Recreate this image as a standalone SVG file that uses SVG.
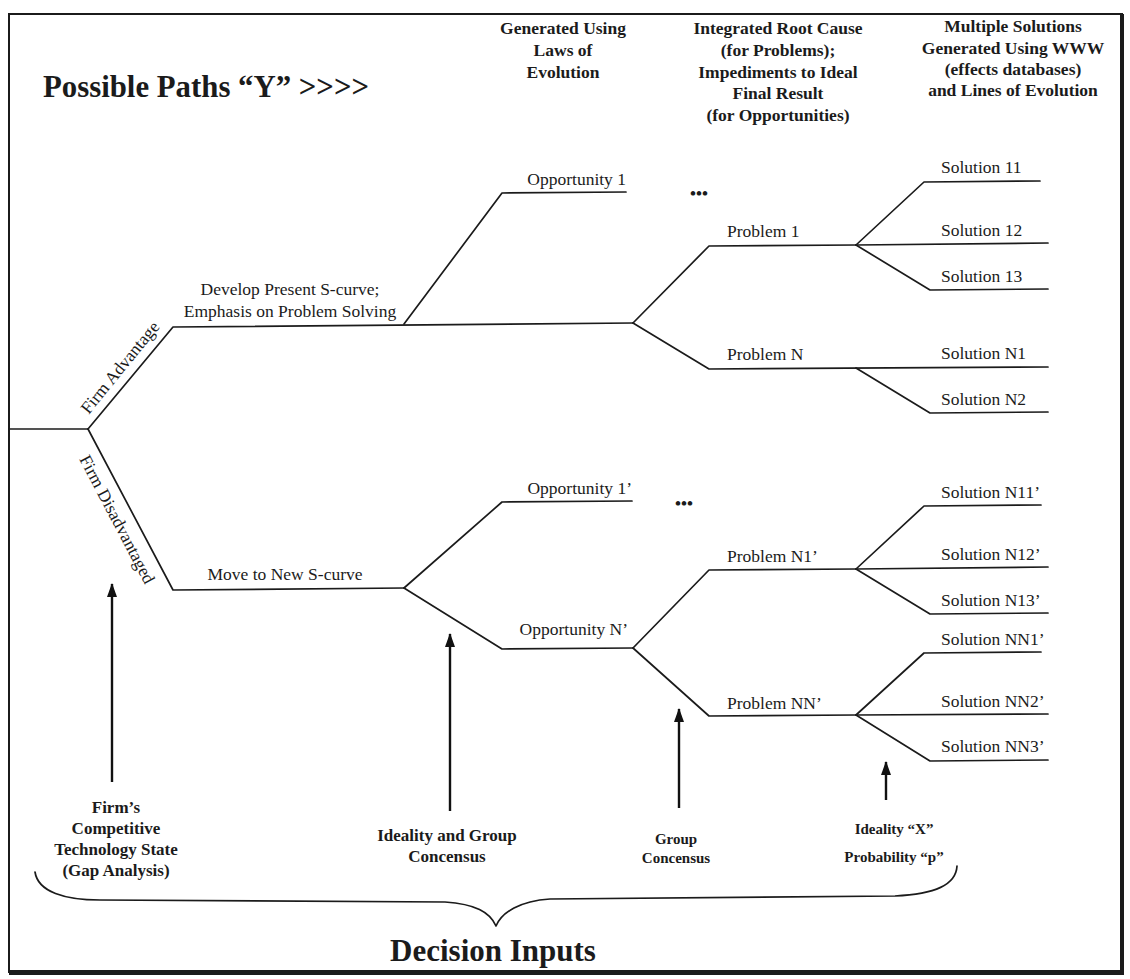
<svg xmlns="http://www.w3.org/2000/svg" width="1130" height="979" viewBox="0 0 1130 979">
  <style>
    .ln { fill: none; stroke: #1b1b1b; stroke-width: 1.7; stroke-linecap: round; stroke-linejoin: round; }
    .arr { fill: none; stroke: #111; stroke-width: 2.4; }
    .lbl { font-family: "Liberation Serif", "Times New Roman", serif; font-size: 17.5px; fill: #1b1b1b; }
    .hdr { font-family: "Liberation Serif", "Times New Roman", serif; font-size: 17.5px; font-weight: bold; fill: #1b1b1b; text-anchor: middle; }
    .inp { font-family: "Liberation Serif", "Times New Roman", serif; font-size: 17px; font-weight: bold; fill: #1b1b1b; text-anchor: middle; }
    .inps { font-family: "Liberation Serif", "Times New Roman", serif; font-size: 15px; font-weight: bold; fill: #1b1b1b; text-anchor: middle; }
    .big { font-family: "Liberation Serif", "Times New Roman", serif; font-weight: bold; fill: #1b1b1b; }
    .r { text-anchor: end; }
    .m { text-anchor: middle; }
  </style>
  <defs>
    <marker id="head" viewBox="0 0 14 10" refX="13" refY="5" markerWidth="14" markerHeight="10" markerUnits="userSpaceOnUse" orient="auto">
      <path d="M0,0 L14,5 L0,10 Z" fill="#111"/>
    </marker>
  </defs>

  <rect width="1130" height="979" fill="#ffffff"/>

  <!-- frame -->
  <g id="frame">
    <rect x="9" y="14" width="1113" height="958" fill="none" stroke="#1b1b1b" stroke-width="2"/>
    <line x1="1122" y1="14" x2="1122" y2="974" stroke="#1b1b1b" stroke-width="4"/>
    <line x1="9" y1="972.5" x2="1124" y2="972.5" stroke="#1b1b1b" stroke-width="5"/>
  </g>

  <!-- headings -->
  <g id="title">
    <text class="big" x="43" y="97" font-size="30.8">Possible Paths  “Y” &gt;&gt;&gt;&gt;</text>
  </g>
  <g id="hdr-evolution">
    <text class="hdr" x="563" y="34">Generated Using</text>
    <text class="hdr" x="563" y="56">Laws of</text>
    <text class="hdr" x="563" y="78">Evolution</text>
  </g>
  <g id="hdr-rootcause">
    <text class="hdr" x="778" y="34">Integrated Root Cause</text>
    <text class="hdr" x="778" y="56">(for Problems);</text>
    <text class="hdr" x="778" y="78">Impediments to Ideal</text>
    <text class="hdr" x="778" y="99">Final Result</text>
    <text class="hdr" x="778" y="121">(for Opportunities)</text>
  </g>
  <g id="hdr-solutions">
    <text class="hdr" x="1013" y="32">Multiple Solutions</text>
    <text class="hdr" x="1013" y="54">Generated Using WWW</text>
    <text class="hdr" x="1013" y="75">(effects databases)</text>
    <text class="hdr" x="1013" y="96">and Lines of Evolution</text>
  </g>

  <!-- tree connectors -->
  <g id="connectors">
    <path class="ln" d="M9,429 H88"/>
    <path class="ln" d="M88,429 L173,327 L633,323"/>
    <path class="ln" d="M88,429 L173,590 L404,588"/>
    <!-- upper branch -->
    <path class="ln" d="M404,324 L502,193 L626,192"/>
    <path class="ln" d="M633,323 L709,246 L856,245"/>
    <path class="ln" d="M633,323 L709,369 L1048,367"/>
    <path class="ln" d="M856,245 L924,182 L1040,181"/>
    <path class="ln" d="M856,245 L1048,243"/>
    <path class="ln" d="M856,245 L930,290 L1048,289"/>
    <path class="ln" d="M856,368 L930,413 L1048,412"/>
    <!-- lower branch -->
    <path class="ln" d="M404,588 L502,502 L632,501"/>
    <path class="ln" d="M404,588 L502,649 L633,648"/>
    <path class="ln" d="M633,648 L709,570 L856,569"/>
    <path class="ln" d="M633,648 L709,716 L856,715"/>
    <path class="ln" d="M856,569 L924,506 L1041,505"/>
    <path class="ln" d="M856,569 L1048,567"/>
    <path class="ln" d="M856,569 L930,614 L1048,613"/>
    <path class="ln" d="M856,715 L924,653 L1041,652"/>
    <path class="ln" d="M856,715 L1048,714"/>
    <path class="ln" d="M856,715 L930,761 L1048,760"/>
    <!-- decision-input arrows -->
    <line class="arr" x1="112" y1="782" x2="112" y2="584" marker-end="url(#head)"/>
    <line class="arr" x1="450" y1="811" x2="450" y2="634" marker-end="url(#head)"/>
    <line class="arr" x1="679" y1="808" x2="679" y2="709" marker-end="url(#head)"/>
    <line class="arr" x1="886" y1="800" x2="886" y2="762" marker-end="url(#head)"/>
    <!-- brace -->
    <path class="ln" d="M35,872 C38,892 65,900 100,900 L445,902 C475,904 490,912 496,926 C502,912 520,901 550,899 L895,896 C935,894 956,885 957,866"/>
  </g>

  <!-- tree labels -->
  <g id="firm-advantage">
    <text class="lbl m" transform="translate(124.5,371) rotate(-50.8)">Firm Advantage</text>
  </g>
  <g id="firm-disadvantaged">
    <text class="lbl m" transform="translate(112,522) rotate(62.3)">Firm Disadvantaged</text>
  </g>
  <g id="develop-present">
    <text class="lbl m" x="290" y="295">Develop Present S-curve;</text>
    <text class="lbl m" x="290" y="317">Emphasis on Problem Solving</text>
  </g>
  <g id="move-new">
    <text class="lbl m" x="285" y="580">Move to New S-curve</text>
  </g>
  <g id="opportunity-1"><text class="lbl r" x="626" y="185">Opportunity 1</text></g>
  <g id="ellipsis-1"><text class="big m" x="699" y="199" font-size="17">•••</text></g>
  <g id="problem-1"><text class="lbl" x="727" y="237">Problem 1</text></g>
  <g id="problem-n"><text class="lbl" x="727" y="360">Problem N</text></g>
  <g id="solution-11"><text class="lbl" x="941" y="173">Solution 11</text></g>
  <g id="solution-12"><text class="lbl" x="941" y="236">Solution 12</text></g>
  <g id="solution-13"><text class="lbl" x="941" y="282">Solution 13</text></g>
  <g id="solution-n1"><text class="lbl" x="941" y="359">Solution N1</text></g>
  <g id="solution-n2"><text class="lbl" x="941" y="405">Solution N2</text></g>

  <g id="opportunity-1p"><text class="lbl r" x="632" y="494">Opportunity 1’</text></g>
  <g id="ellipsis-2"><text class="big m" x="684" y="509" font-size="17">•••</text></g>
  <g id="opportunity-np"><text class="lbl r" x="628" y="635">Opportunity N’</text></g>
  <g id="problem-n1p"><text class="lbl" x="727" y="562">Problem N1’</text></g>
  <g id="problem-nnp"><text class="lbl" x="727" y="709">Problem NN’</text></g>
  <g id="solution-n11p"><text class="lbl" x="941" y="498">Solution N11’</text></g>
  <g id="solution-n12p"><text class="lbl" x="941" y="560">Solution N12’</text></g>
  <g id="solution-n13p"><text class="lbl" x="941" y="606">Solution N13’</text></g>
  <g id="solution-nn1p"><text class="lbl" x="941" y="645">Solution NN1’</text></g>
  <g id="solution-nn2p"><text class="lbl" x="941" y="707">Solution NN2’</text></g>
  <g id="solution-nn3p"><text class="lbl" x="941" y="752">Solution NN3’</text></g>

  <!-- decision inputs -->
  <g id="input-firm-state">
    <text class="inp" x="116" y="813">Firm’s</text>
    <text class="inp" x="116" y="834">Competitive</text>
    <text class="inp" x="116" y="855">Technology State</text>
    <text class="inp" x="116" y="876">(Gap Analysis)</text>
  </g>
  <g id="input-ideality-group">
    <text class="inp" x="447" y="841">Ideality and Group</text>
    <text class="inp" x="447" y="862">Concensus</text>
  </g>
  <g id="input-group">
    <text class="inps" x="676" y="844">Group</text>
    <text class="inps" x="676" y="863">Concensus</text>
  </g>
  <g id="input-ideality-prob">
    <text class="inps" x="894" y="834">Ideality “X”</text>
    <text class="inps" x="894" y="862">Probability “p”</text>
  </g>
  <g id="decision-inputs">
    <text class="big m" x="493" y="961" font-size="31">Decision Inputs</text>
  </g>
</svg>
